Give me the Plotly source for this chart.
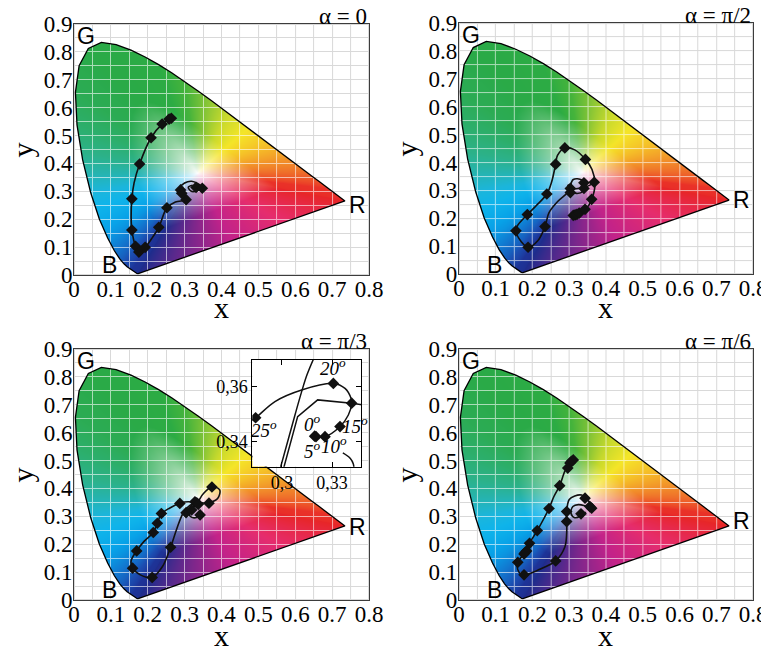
import base64, struct, zlib
import numpy as np
import plotly.graph_objects as go

# ---------------- data ----------------
# CIE 1931 spectral locus (380..700 nm, 5 nm step)
LOCUS_X = [0.1741,0.1740,0.1738,0.1736,0.1733,0.1730,0.1726,0.1721,0.1714,0.1703,0.1689,0.1669,
           0.1644,0.1611,0.1566,0.1510,0.1440,0.1355,0.1241,0.1096,0.0913,0.0687,0.0454,0.0235,
           0.0082,0.0039,0.0139,0.0389,0.0743,0.1142,0.1547,0.1929,0.2296,0.2658,0.3016,0.3373,
           0.3731,0.4087,0.4441,0.4788,0.5125,0.5448,0.5752,0.6029,0.6270,0.6482,0.6658,0.6801,
           0.6915,0.7006,0.7079,0.7140,0.7190,0.7230,0.7260,0.7283,0.7300,0.7311,0.7320,0.7327,
           0.7334,0.7340,0.7344,0.7346,0.7347]
LOCUS_Y = [0.0050,0.0050,0.0049,0.0049,0.0048,0.0048,0.0048,0.0048,0.0051,0.0058,0.0069,0.0086,
           0.0109,0.0138,0.0177,0.0227,0.0297,0.0399,0.0578,0.0868,0.1327,0.2007,0.2950,0.4127,
           0.5384,0.6548,0.7502,0.8120,0.8338,0.8262,0.8059,0.7816,0.7543,0.7243,0.6923,0.6589,
           0.6245,0.5896,0.5547,0.5202,0.4866,0.4544,0.4242,0.3965,0.3725,0.3514,0.3340,0.3197,
           0.3083,0.2993,0.2920,0.2859,0.2809,0.2770,0.2740,0.2717,0.2700,0.2689,0.2680,0.2673,
           0.2666,0.2660,0.2656,0.2654,0.2653]

X_TICKS = [0, 0.1, 0.2, 0.3, 0.4, 0.5, 0.6, 0.7, 0.8]
X_TICK_TEXT = ["0", "0.1", "0.2", "0.3", "0.4", "0.5", "0.6", "0.7", "0.8"]
Y_TICKS = [0, 0.1, 0.2, 0.3, 0.4, 0.5, 0.6, 0.7, 0.8, 0.9]
Y_TICK_TEXT = ["0", "0.1", "0.2", "0.3", "0.4", "0.5", "0.6", "0.7", "0.8", "0.9"]

TITLES = ["α = 0", "α = π/2", "α = π/3", "α = π/6"]

# panel 1 : alpha = 0
P1_CURVE_X = [0.264,0.239,0.209,0.178,0.163,0.157,0.155,0.157,0.167,0.176,0.193,0.213,0.230,0.252,
              0.275,0.304,0.295,0.289,0.300,0.319,0.335,0.347,0.335,0.318,0.310,0.322]
P1_CURVE_Y = [0.562,0.541,0.492,0.398,0.330,0.273,0.210,0.161,0.103,0.082,0.099,0.135,0.171,0.241,
              0.262,0.270,0.290,0.315,0.330,0.336,0.328,0.315,0.303,0.300,0.315,0.322]
P1_MARK_X = [0.264,0.258,0.239,0.209,0.178,0.157,0.157,0.167,0.176,0.193,0.230,0.252,0.304,0.289,0.292,0.331,0.348]
P1_MARK_Y = [0.562,0.559,0.541,0.492,0.398,0.273,0.161,0.103,0.082,0.099,0.171,0.241,0.270,0.305,0.293,0.314,0.311]

# panel 2 : alpha = pi/2
P2_CURVE_X = [0.311,0.327,0.347,0.361,0.370,0.362,0.344,0.315,0.288,0.268,0.263,0.252,0.239,0.210,
              0.186,0.160,0.155,0.170,0.188,0.215,0.234,0.245,0.270,0.297,0.311,0.334,0.343,0.338,
              0.320,0.300,0.297,0.311,0.339,0.366]
P2_CURVE_Y = [0.212,0.218,0.235,0.267,0.322,0.375,0.411,0.445,0.452,0.425,0.394,0.330,0.287,0.245,
              0.213,0.175,0.155,0.115,0.096,0.120,0.170,0.220,0.262,0.295,0.339,0.337,0.318,0.297,
              0.289,0.300,0.319,0.307,0.310,0.325]
P2_MARK_X = [0.311,0.316,0.321,0.327,0.343,0.361,0.368,0.344,0.288,0.263,0.239,0.186,0.155,0.188,
             0.234,0.303,0.303,0.340,0.340]
P2_MARK_Y = [0.210,0.212,0.214,0.218,0.232,0.268,0.329,0.411,0.452,0.394,0.287,0.213,0.155,0.096,
             0.170,0.307,0.292,0.327,0.307]

# panel 3 : alpha = pi/3
P3_CURVE_X = [0.342,0.330,0.315,0.313,0.325,0.333,0.310,0.287,0.260,0.237,0.226,0.215,0.190,0.170,
              0.155,0.159,0.180,0.212,0.240,0.262,0.280,0.296,0.315,0.333,0.350,0.374,0.395,0.390,
              0.366,0.345,0.333]
P3_CURVE_Y = [0.305,0.295,0.300,0.318,0.335,0.347,0.352,0.347,0.330,0.309,0.275,0.242,0.210,0.176,
              0.140,0.114,0.090,0.081,0.120,0.189,0.260,0.311,0.340,0.348,0.380,0.405,0.395,0.365,
              0.349,0.348,0.347]
P3_MARK_X = [0.374,0.366,0.333,0.328,0.337,0.287,0.304,0.342,0.319,0.237,0.226,0.215,0.170,0.159,0.212,0.262]
P3_MARK_Y = [0.405,0.347,0.348,0.352,0.343,0.346,0.313,0.305,0.323,0.310,0.275,0.242,0.176,0.114,0.081,0.189]

# panel 4 : alpha = pi/6
P4_CURVE_X = [0.311,0.302,0.296,0.289,0.274,0.258,0.245,0.213,0.192,0.184,0.180,0.160,0.163,0.177,
              0.220,0.263,0.288,0.293,0.293,0.293,0.300,0.315,0.334,0.343,0.360,0.368,0.350,0.325,
              0.310,0.305,0.315,0.332,0.345]
P4_CURVE_Y = [0.502,0.491,0.473,0.464,0.410,0.370,0.328,0.249,0.203,0.176,0.168,0.135,0.100,0.090,
              0.110,0.140,0.190,0.240,0.281,0.317,0.360,0.373,0.376,0.365,0.345,0.330,0.335,0.342,
              0.335,0.310,0.295,0.302,0.315]
P4_MARK_X = [0.311,0.306,0.302,0.296,0.274,0.245,0.213,0.192,0.184,0.180,0.177,0.160,0.177,0.263,
             0.293,0.293,0.343,0.356,0.361,0.332]
P4_MARK_Y = [0.502,0.497,0.491,0.473,0.410,0.328,0.249,0.203,0.176,0.170,0.165,0.135,0.090,0.140,
             0.281,0.317,0.365,0.335,0.329,0.309]

# inset (zoom of alpha = pi/3)
IN_A_X = [0.2800,0.2842,0.2958,0.3118,0.3308,0.3378,0.3414,0.3418,0.3398,0.3348,0.3258,0.3204]
IN_A_Y = [0.3472,0.3488,0.3547,0.3589,0.3613,0.3595,0.3559,0.3541,0.3498,0.3456,0.3419,0.3419]
IN_MARK_X = [0.2842,0.3308,0.3418,0.3348,0.3258,0.3204,0.3196]
IN_MARK_Y = [0.3488,0.3613,0.3541,0.3456,0.3419,0.3419,0.3421]
IN_B_X = [0.3500,0.3418,0.3214,0.3094,0.3008]
IN_B_Y = [0.3533,0.3541,0.3553,0.3492,0.3300]
IN_C_X = [0.3195,0.3150,0.3118,0.3078,0.2988]
IN_C_Y = [0.3710,0.3644,0.3583,0.3498,0.3300]
IN_D_X = [0.3365,0.3410,0.3428,0.3432]
IN_D_Y = [0.3360,0.3340,0.3320,0.3300]
IN_LABELS = ["20<sup>o</sup>", "25<sup>o</sup>", "0<sup>o</sup>", "15<sup>o</sup>", "5<sup>o</sup>", "10<sup>o</sup>"]
IN_LABEL_X = [0.3306, 0.2895, 0.3185, 0.3440, 0.3185, 0.3310]
IN_LABEL_Y = [0.3672, 0.3446, 0.3470, 0.3462, 0.3372, 0.3388]
IN_XTICKS = [0.30, 0.33]
IN_XTICK_TEXT = ["0,3", "0,33"]
IN_YTICKS = [0.34, 0.36]
IN_YTICK_TEXT = ["0,34", "0,36"]

# ---------------- background chromaticity image (styling) ----------------
W_IMG, H_IMG = 295, 251
WHITE_C = (0.335, 0.365)
EDGE_WL = [380, 450, 465, 475, 482, 487, 490, 493, 496, 500, 505, 515, 540, 550, 558, 566, 574, 582, 592, 605, 620, 700]
EDGE_RGB = [(30,45,140),(30,52,152),(28,78,178),(18,120,208),(8,162,232),(15,180,235),(28,182,220),
            (38,180,175),(44,178,138),(45,175,108),(44,172,85),(42,170,72),(45,172,68),(70,180,60),
            (130,196,55),(200,218,45),(245,230,40),(246,195,40),(242,145,42),(238,95,42),(234,50,40),(232,38,40)]
PURP_F = [0.0, 0.3, 0.55, 0.78, 1.0]
PURP_RGB = [(232,38,40),(230,45,110),(195,35,138),(110,40,140),(30,45,140)]


def point_in_poly(px, py, vx, vy):
    res = np.zeros(px.shape, bool)
    n = len(vx)
    j = n - 1
    for i in range(n):
        xi, yi, xj, yj = vx[i], vy[i], vx[j], vy[j]
        cond = ((yi > py) != (yj > py)) & (px < (xj - xi) * (py - yi) / (yj - yi + 1e-12) + xi)
        res ^= cond
        j = i
    return res


def boundary_samples():
    lx, ly = np.array(LOCUS_X), np.array(LOCUS_Y)
    wl = 380 + 5 * np.arange(len(lx))
    fine_wl = np.linspace(380, 700, 1300)
    bx = np.interp(fine_wl, wl, lx)
    by = np.interp(fine_wl, wl, ly)
    ew = np.array(EDGE_WL, float)
    er = np.array(EDGE_RGB, float)
    bc = np.stack([np.interp(fine_wl, ew, er[:, k]) for k in range(3)], -1)
    f = np.linspace(0, 1, 600)[1:-1]
    pxl = lx[-1] + (lx[0] - lx[-1]) * f
    pyl = ly[-1] + (ly[0] - ly[-1]) * f
    pr = np.array(PURP_RGB, float)
    pc = np.stack([np.interp(f, PURP_F, pr[:, k]) for k in range(3)], -1)
    return np.concatenate([bx, pxl]), np.concatenate([by, pyl]), np.concatenate([bc, pc])


def make_background():
    jj, ii = np.meshgrid(np.arange(W_IMG), np.arange(H_IMG))
    px = (jj + 0.5) / W_IMG * 0.8
    py = 0.9 - (ii + 0.5) / H_IMG * 0.9
    inside = point_in_poly(px, py, np.array(LOCUS_X), np.array(LOCUS_Y))
    bx, by, bc = boundary_samples()
    cx, cy = WHITE_C
    ang_b = np.arctan2(by - cy, bx - cx)
    rad_b = np.hypot(bx - cx, by - cy)
    o = np.argsort(ang_b)
    ang_b, rad_b, bc = ang_b[o], rad_b[o], bc[o]
    ang_e = np.concatenate([ang_b[-1:] - 2 * np.pi, ang_b, ang_b[:1] + 2 * np.pi])
    rad_e = np.concatenate([rad_b[-1:], rad_b, rad_b[:1]])
    bc_e = np.concatenate([bc[-1:], bc, bc[:1]])
    ang = np.arctan2(py - cy, px - cx)
    R = np.interp(ang, ang_e, rad_e)
    col = np.stack([np.interp(ang, ang_e, bc_e[:, k]) for k in range(3)], -1)
    t = np.hypot(px - cx, py - cy) / R
    f = np.clip(t / 0.55, 0, 1) ** 0.8
    out = 255 * (1 - f[..., None]) + col * f[..., None]
    # grid lines
    gcols = set(min(W_IMG - 1, int(k * 0.05 / 0.8 * W_IMG)) for k in range(17))
    grows = set(min(H_IMG - 1, int((0.9 - k * 0.05) / 0.9 * H_IMG)) for k in range(19))
    gmask = np.isin(jj, list(gcols)) | np.isin(ii, list(grows))
    base = np.full(px.shape + (3,), 255.0)
    base[gmask] = (217, 217, 217)
    colored = out.copy()
    colored[gmask] = colored[gmask] * 0.4 + 255 * 0.6
    img = np.where(inside[..., None], colored, base)
    rgba = np.concatenate([img, np.full(px.shape + (1,), 255.0)], -1)
    return np.clip(rgba, 0, 255).astype(np.uint8)


def png_uri(arr):
    h, w, _ = arr.shape
    raw = b"".join(b"\x00" + arr[i].tobytes() for i in range(h))

    def chunk(t, d):
        return struct.pack(">I", len(d)) + t + d + struct.pack(">I", zlib.crc32(t + d) & 0xffffffff)
    png = (b"\x89PNG\r\n\x1a\n" + chunk(b"IHDR", struct.pack(">IIBBBBB", w, h, 8, 6, 0, 0, 0))
           + chunk(b"IDAT", zlib.compress(raw, 9)) + chunk(b"IEND", b""))
    return "data:image/png;base64," + base64.b64encode(png).decode()


BG_URI = png_uri(make_background())

# ---------------- figure ----------------
# page has an 8 px body margin, so the figure is 761 x 639 and placed at (8, 8)
FIG_W, FIG_H = 761, 639
fig = go.Figure()
SERIF = "Liberation Serif, Times New Roman, serif"
SANS = "Liberation Sans, Arial, sans-serif"

panels = [
    ("", [0.0867, 0.4744], [0.5822, 0.9750], P1_CURVE_X, P1_CURVE_Y, P1_MARK_X, P1_MARK_Y, 0.250, 33),
    ("2", [0.5926, 0.9790], [0.5837, 0.9765], P2_CURVE_X, P2_CURVE_Y, P2_MARK_X, P2_MARK_Y, 0.265, 33),
    ("3", [0.0867, 0.4744], [0.0736, 0.4664], P3_CURVE_X, P3_CURVE_Y, P3_MARK_X, P3_MARK_Y, 0.260, 36),
    ("4", [0.5926, 0.9790], [0.0736, 0.4664], P4_CURVE_X, P4_CURVE_Y, P4_MARK_X, P4_MARK_Y, 0.282, 36),
]

images, annotations = [], []
for idx, (s, xd, yd, cx, cy, mx, my, ry, xt_off) in enumerate(panels):
    xa, ya = "x" + s, "y" + s
    fig.add_trace(go.Scatter(x=LOCUS_X + [LOCUS_X[0]], y=LOCUS_Y + [LOCUS_Y[0]], mode="lines",
                             line=dict(color="black", width=1.3), xaxis=xa, yaxis=ya, hoverinfo="skip"))
    fig.add_trace(go.Scatter(x=cx, y=cy, mode="lines", line=dict(color="#111111", width=1.6, shape="spline"),
                             xaxis=xa, yaxis=ya, hoverinfo="skip"))
    fig.add_trace(go.Scatter(x=mx, y=my, mode="markers", marker=dict(symbol="diamond", size=9, color="#111111"),
                             xaxis=xa, yaxis=ya))
    fig.layout["xaxis" + s] = dict(domain=xd, anchor=ya, range=[0, 0.8], autorange=False, automargin=False,
                                   tickvals=X_TICKS, ticktext=X_TICK_TEXT, showgrid=False, zeroline=False,
                                   showline=True, mirror=True, linecolor="#3c3c3c", linewidth=1, ticks="",
                                   ticklabelstandoff=-7,
                                   tickfont=dict(family=SERIF, size=23, color="black"))
    fig.layout["yaxis" + s] = dict(domain=yd, anchor=xa, range=[0, 0.9], autorange=False, automargin=False,
                                   tickvals=Y_TICKS, ticktext=Y_TICK_TEXT, showgrid=False, zeroline=False,
                                   showline=True, mirror=True, linecolor="#3c3c3c", linewidth=1, ticks="",
                                   ticklabelstandoff=-4,
                                   tickfont=dict(family=SERIF, size=23, color="black"))
    images.append(dict(source=BG_URI, xref=xa, yref=ya, x=0, y=0.9, sizex=0.8, sizey=0.9,
                       xanchor="left", yanchor="top", sizing="stretch", layer="below"))
    dh = (yd[1] - yd[0]) * FIG_H
    dw = (xd[1] - xd[0]) * FIG_W
    annotations += [
        dict(text=TITLES[idx], xref=xa + " domain", yref=ya + " domain", x=1.0, y=1.0, xanchor="right",
             yanchor="bottom", showarrow=False, yshift=-7, font=dict(family=SERIF, size=23, color="black")),
        dict(text="G", xref=xa, yref=ya, x=0.033, y=0.856, showarrow=False,
             font=dict(family=SANS, size=23, color="black")),
        dict(text="B", xref=xa, yref=ya, x=0.097, y=0.034, showarrow=False,
             font=dict(family=SANS, size=23, color="black")),
        dict(text="R", xref=xa, yref=ya, x=0.768, y=ry, showarrow=False,
             font=dict(family=SANS, size=23, color="black")),
        dict(text="x", xref=xa + " domain", yref=ya + " domain", x=0.5, y=-xt_off / dh, yanchor="middle",
             showarrow=False, font=dict(family=SERIF, size=30, color="black")),
        dict(text="y", xref=xa + " domain", yref=ya + " domain", x=-52 / dw, y=0.5, xanchor="center",
             yanchor="middle", textangle=-90, showarrow=False, font=dict(family=SERIF, size=30, color="black")),
    ]

# inset
fig.add_trace(go.Scatter(x=IN_C_X, y=IN_C_Y, mode="lines", line=dict(color="#111111", width=1.5, shape="spline"),
                         xaxis="x5", yaxis="y5", hoverinfo="skip"))
fig.add_trace(go.Scatter(x=IN_B_X, y=IN_B_Y, mode="lines", line=dict(color="#111111", width=1.5),
                         xaxis="x5", yaxis="y5", hoverinfo="skip"))
fig.add_trace(go.Scatter(x=IN_D_X, y=IN_D_Y, mode="lines", line=dict(color="#111111", width=1.5, shape="spline"),
                         xaxis="x5", yaxis="y5", hoverinfo="skip"))
fig.add_trace(go.Scatter(x=IN_A_X, y=IN_A_Y, mode="lines", line=dict(color="#111111", width=1.5, shape="spline"),
                         xaxis="x5", yaxis="y5", hoverinfo="skip"))
fig.add_trace(go.Scatter(x=IN_MARK_X, y=IN_MARK_Y, mode="markers",
                         marker=dict(symbol="diamond", size=9, color="#111111"), xaxis="x5", yaxis="y5"))
IN_XR = [0.2822, 0.3474]
IN_YR = [0.3310, 0.3698]
fig.layout["xaxis5"] = dict(domain=[0.3210, 0.4639], anchor="y5", range=IN_XR, autorange=False, automargin=False,
                            tickvals=IN_XTICKS, ticktext=IN_XTICK_TEXT, showgrid=False, zeroline=False,
                            showline=True, mirror="ticks", linecolor="black", linewidth=1, ticks="inside",
                            ticklen=5, tickcolor="black", tickfont=dict(family=SERIF, size=18, color="black"))
fig.layout["yaxis5"] = dict(domain=[0.2822, 0.4491], anchor="x5", range=IN_YR, autorange=False, automargin=False,
                            tickvals=IN_YTICKS, ticktext=IN_YTICK_TEXT, showgrid=False, zeroline=False,
                            showline=True, mirror="ticks", linecolor="black", linewidth=1, ticks="inside",
                            ticklen=5, tickcolor="black", tickfont=dict(family=SERIF, size=18, color="black"))
for t, lx, ly in zip(IN_LABELS, IN_LABEL_X, IN_LABEL_Y):
    annotations.append(dict(text="<i>" + t + "</i>", xref="x5", yref="y5", x=lx, y=ly, showarrow=False,
                            font=dict(family=SERIF, size=19, color="black")))

fig.update_layout(
    width=FIG_W, height=FIG_H, margin=dict(l=0, r=0, t=0, b=0, autoexpand=False),
    paper_bgcolor="white", plot_bgcolor="rgba(0,0,0,0)", showlegend=False,
    images=images, annotations=annotations,
    shapes=[dict(type="rect", xref="x5", yref="y5", x0=IN_XR[0], x1=IN_XR[1], y0=IN_YR[0], y1=IN_YR[1],
                 fillcolor="white", line=dict(width=0), layer="below")],
)

fig.write_html("out.html")
